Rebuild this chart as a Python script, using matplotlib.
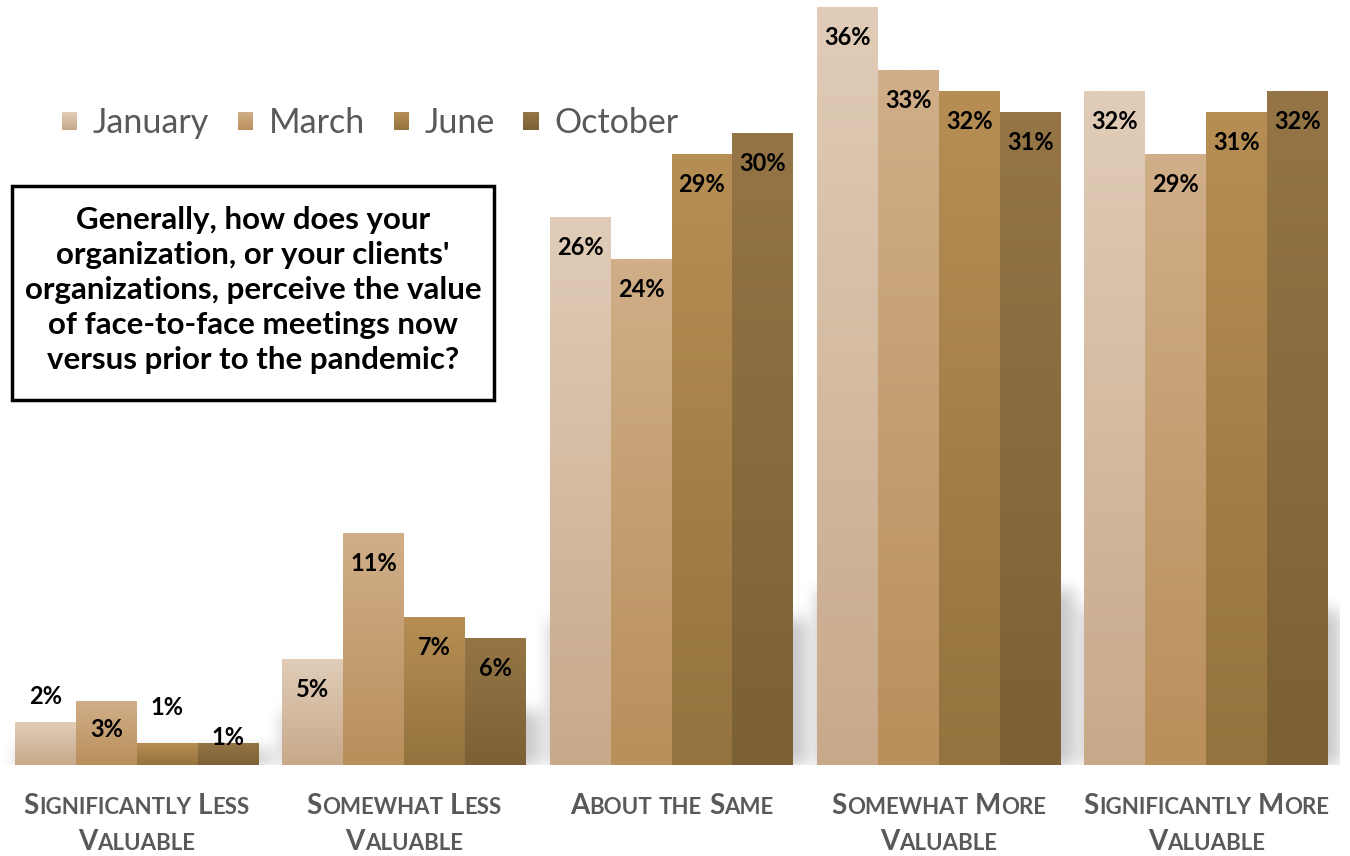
import numpy as np
import matplotlib
matplotlib.use("Agg")
import matplotlib.pyplot as plt
from matplotlib.patches import Rectangle, Patch
from matplotlib.legend_handler import HandlerBase
from matplotlib.offsetbox import TextArea, HPacker, VPacker, AnnotationBbox

# Survey answers per month (percent of respondents)
categories = [["Significantly Less", "Valuable"],
              ["Somewhat Less", "Valuable"],
              ["About the Same"],
              ["Somewhat More", "Valuable"],
              ["Significantly More", "Valuable"]]
months = ["January", "March", "June", "October"]
january = [2, 5, 26, 36, 32]
march = [3, 11, 24, 33, 29]
june = [1, 7, 29, 32, 31]
october = [1, 6, 30, 31, 32]
question = ("Generally, how does your\norganization, or your clients'\n"
            "organizations, perceive the value\nof face-to-face meetings now\n"
            "versus prior to the pandemic?")

series = [january, march, june, october]
# (top, bottom) gradient colours for each month
grads = [("#e0ccb8", "#c8a98a"),
         ("#d0ae88", "#b98f5b"),
         ("#b68e54", "#94733e"),
         ("#957545", "#7c6036")]
GREY = "#595959"
FONT = "Lato"

W, H = 1350, 856
fig = plt.figure(figsize=(W / 100, H / 100), dpi=100)
ax = fig.add_axes([3 / W, 1 - 765 / H, 1337 / W, 758 / H])
ax.set_xlim(-0.5, len(categories) - 0.5)
ax.set_ylim(0, 36)
ax.axis("off")

bw = 0.228
x = np.arange(len(categories))


def hex2rgb(c):
    return np.array(matplotlib.colors.to_rgb(c))


# soft shadow cast to the right of each group
nx, ny = 1337, 758
gx = np.linspace(-0.5, len(categories) - 0.5, nx)
gy = np.linspace(36, 0, ny)
mask = np.zeros((ny, nx))
px = 1.0 / 267.4
for i in range(len(categories)):
    top = 0.23 * max(s[i] for s in series)
    cols = (gx >= i - 2 * bw) & (gx <= i + 2 * bw + 14 * px)
    rows = gy <= top
    mask[np.ix_(rows, cols)] = 1.0
k = np.exp(-0.5 * (np.arange(-30, 31) / 8.0) ** 2)
k /= k.sum()
mask = np.apply_along_axis(lambda r: np.convolve(r, k, mode="same"), 1, mask)
mask = np.apply_along_axis(lambda c: np.convolve(c, k, mode="same"), 0, mask)
shadow = np.zeros((ny, nx, 4))
shadow[..., 3] = 0.22 * mask
ax.imshow(shadow, extent=(-0.5, len(categories) - 0.5, 0, 36), aspect="auto",
          zorder=0.5, interpolation="bilinear")

# gradient-filled bars
label_px = [[26, -28, 36, 6]] + [[-30] * 4] * 4
for j, (vals, (ctop, cbot)) in enumerate(zip(series, grads)):
    xs = x + (j - 1.5) * bw
    bars = ax.bar(xs, vals, width=bw, color="none", zorder=2)
    g = np.linspace(0, 1, 64)[:, None]
    img = (1 - g)[..., None] * hex2rgb(ctop) + g[..., None] * hex2rgb(cbot)
    for i, b in enumerate(bars):
        ax.imshow(img, extent=(b.get_x(), b.get_x() + b.get_width(), 0, b.get_height()),
                  aspect="auto", zorder=2, interpolation="bilinear")
        ax.annotate(f"{vals[i]}%", (b.get_x() + b.get_width() / 2, vals[i]),
                    xytext=(0, label_px[i][j] * 0.72), textcoords="offset points",
                    ha="center", va="center", fontsize=17, fontweight="bold",
                    family=FONT, color="black", zorder=5)


# category labels in small caps
def small_caps(words_line, big=20, small=16):
    words = []
    for word in words_line.split(" "):
        parts = []
        if word[0].isupper():
            parts.append(TextArea(word[0], textprops=dict(fontsize=big, fontweight="bold",
                                                          color=GREY, family=FONT)))
            rest = word[1:]
        else:
            rest = word
        if rest:
            parts.append(TextArea(rest.upper(), textprops=dict(fontsize=small, fontweight="bold",
                                                               color=GREY, family=FONT)))
        words.append(HPacker(children=parts, align="baseline", pad=0, sep=0))
    return HPacker(children=words, align="baseline", pad=0, sep=5)


for i, lines in enumerate(categories):
    box = VPacker(children=[small_caps(l) for l in lines], align="center", pad=0, sep=7)
    ab = AnnotationBbox(box, (x[i], 0), xycoords=("data", "axes fraction"),
                        xybox=(0, -20), boxcoords="offset points",
                        box_alignment=(0.5, 1), frameon=False, pad=0)
    ax.add_artist(ab)


# legend with gradient swatches
class GradientSwatch(HandlerBase):
    def __init__(self, ctop, cbot):
        super().__init__()
        self.ctop, self.cbot = hex2rgb(ctop), hex2rgb(cbot)

    def create_artists(self, legend, orig_handle, xdescent, ydescent, width, height,
                       fontsize, trans):
        n = 16
        arts = []
        for s in range(n):
            t = s / (n - 1)
            c = t * self.ctop + (1 - t) * self.cbot
            arts.append(Rectangle((-xdescent, -ydescent + height * s / n), width,
                                  height / n * 1.05, facecolor=c, edgecolor="none",
                                  transform=trans))
        return arts


handles = [Patch(label=m) for m in months]
hmap = {h: GradientSwatch(*g) for h, g in zip(handles, grads)}
leg = fig.legend(handles=handles, handler_map=hmap, ncol=4, loc="center left",
                 bbox_to_anchor=(62 / W, 1 - 123 / H), frameon=False,
                 prop=dict(family=FONT, size=24.5), labelcolor=GREY,
                 handlelength=0.45, handleheight=0.45, handletextpad=0.45,
                 columnspacing=0.85, borderpad=0, borderaxespad=0)

# question box
fig.add_artist(Rectangle((12 / W, 1 - 400 / H), 482 / W, 214 / H, transform=fig.transFigure,
                         facecolor="white", edgecolor="black", linewidth=2.5, zorder=6))
fig.text(253 / W, 1 - 290 / H, question, ha="center", va="center", fontsize=22.5,
         fontweight="bold", family=FONT, linespacing=1.3, zorder=7)

fig.savefig("out.png", dpi=100)
